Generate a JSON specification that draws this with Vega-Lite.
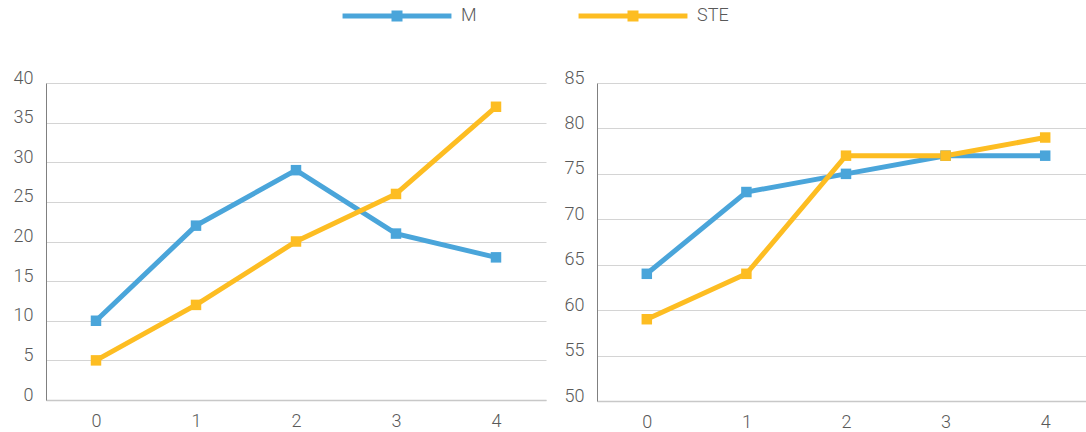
{
  "$schema": "https://vega.github.io/schema/vega-lite/v6.json",
  "padding": {"left": 13, "top": 7, "right": 0, "bottom": 0},
  "background": "white",
  "datasets": {
    "left": [
      {"x": "0", "series": "M", "value": 10},
      {"x": "1", "series": "M", "value": 22},
      {"x": "2", "series": "M", "value": 29},
      {"x": "3", "series": "M", "value": 21},
      {"x": "4", "series": "M", "value": 18},
      {"x": "0", "series": "STE", "value": 5},
      {"x": "1", "series": "STE", "value": 12},
      {"x": "2", "series": "STE", "value": 20},
      {"x": "3", "series": "STE", "value": 26},
      {"x": "4", "series": "STE", "value": 37}
    ],
    "right": [
      {"x": "0", "series": "M", "value": 64},
      {"x": "1", "series": "M", "value": 73},
      {"x": "2", "series": "M", "value": 75},
      {"x": "3", "series": "M", "value": 77},
      {"x": "4", "series": "M", "value": 77},
      {"x": "0", "series": "STE", "value": 59},
      {"x": "1", "series": "STE", "value": 64},
      {"x": "2", "series": "STE", "value": 77},
      {"x": "3", "series": "STE", "value": 77},
      {"x": "4", "series": "STE", "value": 79}
    ]
  },
  "config": {
    "view": {"stroke": null},
    "font": "Roboto",
    "axis": {
      "labelFont": "Roboto",
      "labelFontWeight": 300,
      "labelFontSize": 18,
      "labelColor": "#595959",
      "ticks": false,
      "title": null,
      "gridColor": "#d4d4d4",
      "gridWidth": 1
    },
    "legend": {
      "labelFont": "Roboto",
      "labelFontWeight": 300,
      "labelFontSize": 18,
      "labelColor": "#595959",
      "title": null,
      "orient": "none",
      "direction": "horizontal",
      "legendX": 342,
      "legendY": -76,
      "symbolType": "M-9.9,-0.45 L9.9,-0.45 L9.9,0.45 L-9.9,0.45 Z M-1,-1 L1,-1 L1,1 L-1,1 Z",
      "symbolSize": 121,
      "symbolStrokeWidth": 0,
      "labelOffset": 55,
      "columnPadding": 101
    }
  },
  "spacing": 18,
  "resolve": {"scale": {"color": "shared"}, "legend": {"color": "shared"}},
  "hconcat": [
    {
      "width": 500,
      "height": 317,
      "data": {"name": "left"},
      "encoding": {
        "x": {"field": "x", "type": "ordinal", "scale": {"paddingInner": 0, "paddingOuter": 0.5},
          "axis": {"labelAngle": 0, "grid": false, "domainColor": "#c8c8c8", "domainWidth": 1.5, "labelPadding": 12}},
        "y": {"field": "value", "type": "quantitative", "scale": {"domain": [0, 40], "nice": false},
          "axis": {"values": [0, 5, 10, 15, 20, 25, 30, 35, 40], "domainColor": "#808080", "domainWidth": 1, "labelPadding": 13, "labelBaseline": "alphabetic"}},
        "color": {"field": "series", "type": "nominal",
          "scale": {"domain": ["M", "STE"], "range": ["#4aa5da", "#fdbd22"]}}
      },
      "layer": [
        {"mark": {"type": "line", "strokeWidth": 5}},
        {"mark": {"type": "point", "shape": "square", "filled": true, "opacity": 1, "size": 110}}
      ]
    },
    {
      "width": 498,
      "height": 318,
      "data": {"name": "right"},
      "encoding": {
        "x": {"field": "x", "type": "ordinal", "scale": {"paddingInner": 0, "paddingOuter": 0.5},
          "axis": {"labelAngle": 0, "grid": false, "domainColor": "#c8c8c8", "domainWidth": 1.5, "labelPadding": 12}},
        "y": {"field": "value", "type": "quantitative", "scale": {"domain": [50, 85], "nice": false, "zero": false},
          "axis": {"values": [50, 55, 60, 65, 70, 75, 80, 85], "domainColor": "#808080", "domainWidth": 1, "labelPadding": 13, "labelBaseline": "alphabetic"}},
        "color": {"field": "series", "type": "nominal",
          "scale": {"domain": ["M", "STE"], "range": ["#4aa5da", "#fdbd22"]}}
      },
      "layer": [
        {"mark": {"type": "line", "strokeWidth": 5}},
        {"mark": {"type": "point", "shape": "square", "filled": true, "opacity": 1, "size": 110}}
      ]
    }
  ]
}
